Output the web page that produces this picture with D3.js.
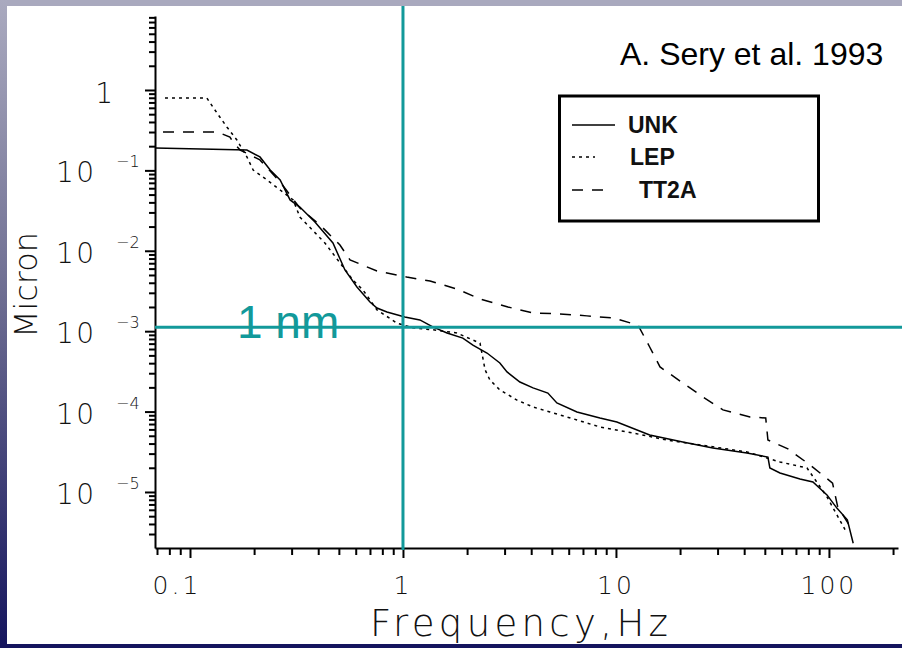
<!DOCTYPE html>
<html>
<head>
<meta charset="utf-8">
<title>UNK / LEP / TT2A ground motion</title>
<script src="https://d3js.org/d3.v7.min.js"></script>
<style>
    body { margin: 0; background: #fff; }
    svg { display: block; }
    .axis path, .axis line { stroke: #000; stroke-width: 2; fill: none; }
    .scan { font-family: "DejaVu Sans", sans-serif; font-weight: 200; fill: #111; }
    .curve { fill: none; stroke: #000; stroke-width: 1.5; }
    .teal { stroke: #12999a; stroke-width: 3; }
</style>
</head>
<body>
<svg width="902" height="648"></svg>
<script>
// ---- data (frequency in Hz, amplitude in micron) ----
const unkFreq   = [0.0685, 0.185, 0.213, 0.238, 0.265, 0.295, 0.328, 0.386, 0.469, 0.534, 0.608, 0.700, 0.755, 0.841, 1.02, 1.20, 1.38, 1.61, 1.91, 2.13, 2.48, 2.85, 3.08, 3.54, 4.08, 4.79, 5.28, 6.56, 8.41, 10.1, 14.4, 20.6, 28.5, 41.2, 51.7, 52.8, 58.9, 73.1, 84.1, 97.9, 109, 122, 130];
const unkMicron = [0.19, 0.179, 0.147, 0.101, 0.076, 0.0429, 0.035, 0.0228, 0.0125, 0.00577, 0.00355, 0.00231, 0.00194, 0.00173, 0.0015, 0.00138, 0.00113, 0.00095, 0.00082, 0.00067, 0.000535, 0.000402, 0.000311, 0.000233, 0.000197, 0.00017, 0.000128, 0.0000988, 0.0000832, 0.0000743, 0.0000512, 0.0000419, 0.0000352, 0.0000305, 0.0000272, 0.0000199, 0.0000172, 0.0000145, 0.0000133, 0.0000092, 0.0000063, 0.0000045, 0.0000023];

const lepFreq   = [0.0763, 0.120, 0.128, 0.138, 0.149, 0.166, 0.185, 0.198, 0.230, 0.265, 0.305, 0.328, 0.430, 0.582, 0.649, 0.755, 0.937, 1.11, 1.38, 1.79, 2.30, 2.43, 2.56, 2.85, 3.43, 4.08, 4.90, 6.56, 8.41, 12.0, 17.3, 24.8, 41.2, 58.9, 78.9, 97.9, 119];
const lepMicron = [0.795, 0.795, 0.615, 0.461, 0.347, 0.239, 0.147, 0.101, 0.076, 0.057, 0.0429, 0.0263, 0.0125, 0.00433, 0.00325, 0.00184, 0.00126, 0.0011, 0.00104, 0.00095, 0.00071, 0.00033, 0.000247, 0.000186, 0.000139, 0.000114, 0.0000988, 0.0000787, 0.0000643, 0.0000542, 0.0000443, 0.0000385, 0.0000315, 0.0000236, 0.0000199, 0.0000087, 0.0000034];

const tt2aFreq   = [0.0747, 0.134, 0.138, 0.154, 0.159, 0.172, 0.213, 0.265, 0.328, 0.408, 0.506, 0.564, 0.755, 1.04, 1.34, 1.79, 2.30, 3.11, 4.08, 5.46, 7.31, 9.68, 12.7, 14.4, 16.1, 20.6, 25.6, 31.8, 42.6, 50.5, 51.7, 64.2, 81.5, 104, 110, 126];
const tt2aMicron = [0.30, 0.30, 0.292, 0.26, 0.225, 0.179, 0.135, 0.0718, 0.034, 0.0209, 0.0118, 0.00769, 0.00561, 0.00472, 0.00421, 0.00335, 0.00251, 0.002, 0.00168, 0.00164, 0.00155, 0.00146, 0.00119, 0.000636, 0.000359, 0.000227, 0.000152, 0.000105, 0.0000857, 0.0000832, 0.0000443, 0.0000343, 0.0000217, 0.0000129, 0.0000065, 0.0000037];

const xTickValues = [0.1, 1, 10, 100];
const xTickLabels = ["0.1", "1", "10", "100"];
const yExponents  = [0, -1, -2, -3, -4, -5];
const legendLabels = ["UNK", "LEP", "TT2A"];
const credit = "A. Sery et al. 1993";
const nmLabel = "1 nm";

// ---- layout ----
const svg = d3.select("svg");
const teal = "#12999a";

const x = d3.scaleLog().domain([0.0685, 211]).range([155, 898]);
const y = d3.scaleLog().domain([8.32, 2.01e-6]).range([16, 548]);

// slide frame
const defs = svg.append("defs");
const grad = defs.append("linearGradient").attr("id", "side")
    .attr("x1", 0).attr("y1", 0).attr("x2", 0).attr("y2", 1);
grad.append("stop").attr("offset", "0%").attr("stop-color", "#aaaabf");
grad.append("stop").attr("offset", "45%").attr("stop-color", "#6e6e92");
grad.append("stop").attr("offset", "100%").attr("stop-color", "#15155e");

svg.append("rect").attr("x", 0).attr("y", 0).attr("width", 902).attr("height", 6).attr("fill", "#a9a9be");
svg.append("rect").attr("x", 0).attr("y", 0).attr("width", 7).attr("height", 648).attr("fill", "url(#side)");
svg.append("rect").attr("x", 0).attr("y", 644).attr("width", 902).attr("height", 4).attr("fill", "#15155e");

// tick value lists (log minors)
function logTicks(scale) {
    const d = scale.domain(), lo = Math.min(d[0], d[1]), hi = Math.max(d[0], d[1]);
    const out = [];
    for (let k = Math.floor(Math.log10(lo)); k <= Math.ceil(Math.log10(hi)); k++) {
        for (let m = 1; m < 10; m++) {
            const v = m * Math.pow(10, k);
            if (v >= lo && v <= hi) out.push(v);
        }
    }
    return out;
}
const isMajor = v => Math.abs(Math.log10(v) - Math.round(Math.log10(v))) < 1e-6;

// y axis
const gy = svg.append("g").attr("class", "axis").attr("transform", "translate(155,0)")
    .call(d3.axisLeft(y).tickValues(logTicks(y)).tickFormat("").tickSize(6).tickSizeOuter(0));
gy.selectAll(".tick line").attr("x2", d => isMajor(d) ? -10 : -6);

// x axis
const gx = svg.append("g").attr("class", "axis").attr("transform", "translate(0,548)")
    .call(d3.axisBottom(x).tickValues(logTicks(x)).tickFormat("").tickSize(7).tickSizeOuter(0));
gx.selectAll(".tick line").attr("y2", d => isMajor(d) ? 10 : 7);

// x tick labels
svg.selectAll(".xlab").data(xTickValues).join("text")
    .attr("class", "scan xlab")
    .attr("x", (d, i) => x(d) + (i === 0 ? -13 : 0))
    .attr("y", 594)
    .attr("text-anchor", "middle")
    .attr("font-size", 25)
    .attr("letter-spacing", 3)
    .text((d, i) => xTickLabels[i]);

// y tick labels: "1" and 10^-n
yExponents.forEach(e => {
    const yy = y(Math.pow(10, e));
    if (e === 0) {
        svg.append("text").attr("class", "scan").attr("x", 113).attr("y", yy + 13)
            .attr("text-anchor", "end").attr("font-size", 28).text("1");
    } else {
        svg.append("text").attr("class", "scan").attr("x", 56).attr("y", yy + 12)
            .attr("font-size", 28).attr("textLength", 38).attr("lengthAdjust", "spacing").text("10");
        svg.append("text").attr("class", "scan").attr("x", 116).attr("y", yy - 3)
            .attr("font-size", 16).attr("font-weight", 400).text("\u2212" + Math.abs(e));
    }
});

// axis titles
svg.append("text").attr("class", "scan")
    .attr("transform", "translate(37,285) rotate(-90)")
    .attr("text-anchor", "middle").attr("font-size", 32)
    .attr("textLength", 106).attr("lengthAdjust", "spacing")
    .text("Micron");
svg.append("text").attr("class", "scan")
    .attr("x", 370).attr("y", 636).attr("font-size", 37)
    .attr("textLength", 298).attr("lengthAdjust", "spacing")
    .text("Frequency,Hz");

// curves
const line = d3.line().x(d => x(d[0])).y(d => y(d[1]));
const series = [
    { f: unkFreq, v: unkMicron, dash: null, w: 1.5 },
    { f: lepFreq, v: lepMicron, dash: "3,4", w: 1.5 },
    { f: tt2aFreq, v: tt2aMicron, dash: "11,9", w: 1.5 }
];
series.forEach(s => {
    svg.append("path").attr("class", "curve")
        .attr("d", line(d3.zip(s.f, s.v)))
        .attr("stroke-width", s.w)
        .attr("stroke-dasharray", s.dash);
});

// legend
svg.append("rect").attr("x", 559.5).attr("y", 96).attr("width", 259).attr("height", 125)
    .attr("fill", "none").attr("stroke", "#000").attr("stroke-width", 3);
const legY = [125, 157, 190];
const legX = [628, 630, 639];
const legLen = [43, 23, 35];
legendLabels.forEach((lab, i) => {
    svg.append("line").attr("x1", 572).attr("x2", 572 + legLen[i])
        .attr("y1", legY[i]).attr("y2", legY[i])
        .attr("stroke", "#000").attr("stroke-width", 1.5)
        .attr("stroke-dasharray", series[i].dash);
    svg.append("text").attr("x", legX[i]).attr("y", legY[i] + 8)
        .attr("font-family", "Liberation Sans, Arial, sans-serif")
        .attr("font-size", 23).attr("font-weight", "bold").attr("fill", "#111").text(lab);
});

// credit
svg.append("text").attr("x", 620).attr("y", 65)
    .attr("font-family", "Liberation Sans, Arial, sans-serif")
    .attr("font-size", 32).attr("fill", "#000").text(credit);

// teal overlays: 1 Hz and 1 nm
svg.append("line").attr("class", "teal")
    .attr("x1", x(1)).attr("x2", x(1)).attr("y1", 6).attr("y2", 550);
svg.append("line").attr("class", "teal")
    .attr("x1", 155).attr("x2", 902).attr("y1", y(1e-3) - 4).attr("y2", y(1e-3) - 4);
svg.append("text").attr("x", 237).attr("y", 338)
    .attr("font-family", "Liberation Sans, Arial, sans-serif")
    .attr("font-size", 46).attr("fill", teal).text(nmLabel);
</script>
</body>
</html>
